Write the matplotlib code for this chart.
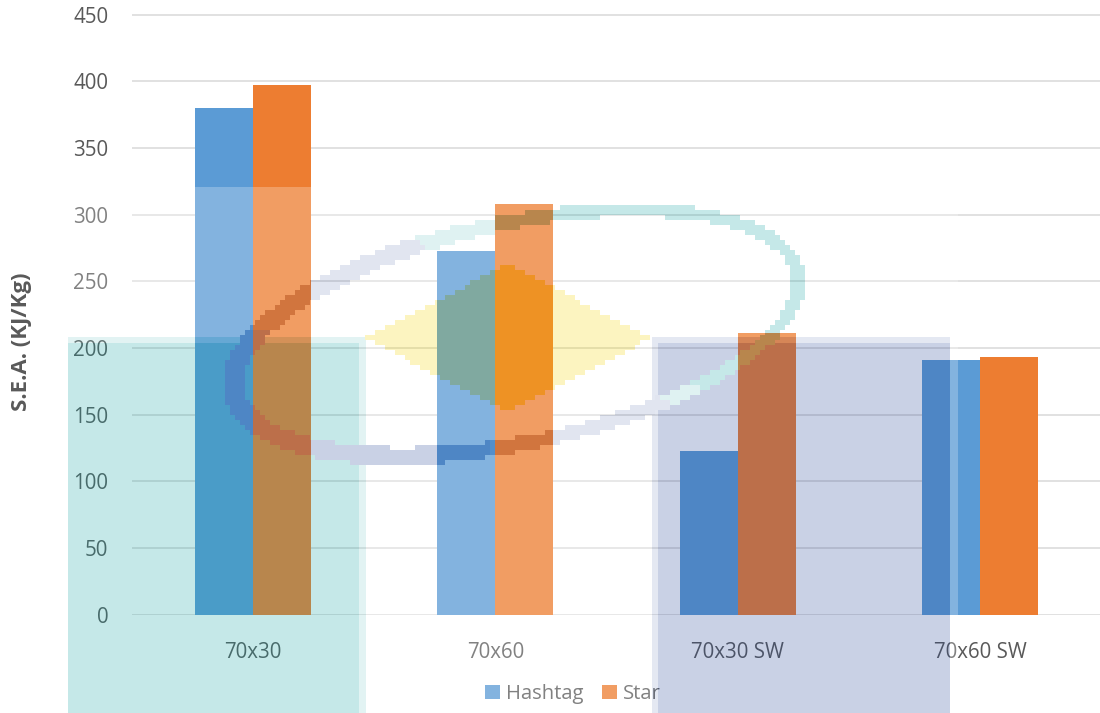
import numpy as np
import matplotlib
matplotlib.use("Agg")
import matplotlib.pyplot as plt

# ---- data -------------------------------------------------------------
categories = ["70x30", "70x60", "70x30 SW", "70x60 SW"]
hashtag = [380, 273, 123, 191]
star = [397, 308, 211, 193]
series_names = ["Hashtag", "Star"]
y_ticks = [0, 50, 100, 150, 200, 250, 300, 350, 400, 450]
y_label = "S.E.A. (KJ/Kg)"

# ---- figure / axes ----------------------------------------------------
W, H = 1100, 713
plt.rcParams["font.family"] = ["Open Sans", "DejaVu Sans"]
fig = plt.figure(figsize=(W / 100, H / 100), dpi=100)

px_per_unit = 66.67 / 50.0
y0_px = 614.7
ymax = 455
ax = fig.add_axes([131.75 / W, (H - y0_px) / H, 969.5 / W, ymax * px_per_unit / H])

x = np.arange(len(categories))
w = 0.239
b1 = ax.bar(x - w, hashtag, w, align="edge", color="#5B9BD5", zorder=2, label=series_names[0])
b2 = ax.bar(x, star, w, align="edge", color="#ED7D31", zorder=2, label=series_names[1])

ax.set_xlim(-0.5, 3.5)
ax.set_ylim(0, ymax)
ax.set_yticks(y_ticks)
ax.set_xticks(x, categories)
ax.yaxis.grid(True, color="#D9D9D9", lw=1.1)
ax.set_axisbelow(True)
for s in ax.spines.values():
    s.set_visible(False)
ax.tick_params(length=0, labelsize=14.8, colors="#595959")
ax.tick_params(axis="y", pad=17)
ax.tick_params(axis="x", pad=20)

fig.text(22 / W, 1 - 342 / H, y_label, rotation=90, ha="center", va="center",
         fontsize=16, fontweight="bold", color="#595959")

fig.legend(handles=[b1, b2], loc="center", bbox_to_anchor=(573 / W, 1 - 694 / H),
           ncol=2, frameon=False, fontsize=14.6, handlelength=0.7, handleheight=0.7,
           handletextpad=0.3, columnspacing=0.95, labelcolor="#595959")

# ---- translucent emblem laid over the chart --------------------------
yy, xx = np.mgrid[0:H, 0:W] + 0.5
logo = np.zeros((H, W, 4))

white = np.array([1.0, 1.0, 1.0])
teal = np.array([23, 163, 163]) / 255
lav = np.array([39, 71, 151]) / 255
yellow = np.array([243, 214, 0]) / 255


def paint(mask, rgb, alpha=0.25):
    logo[mask, :3] = rgb
    logo[mask, 3] = alpha


def box(x0, x1, y0, y1):
    return (xx >= x0) & (xx < x1) & (yy >= y0) & (yy < y1)


paint(box(68, 958, 187, 713), white)
paint(box(68, 366, 337, 713), 0.5 * teal + 0.5 * white)
paint(box(68, 359, 343, 713), teal)
paint(box(652, 950, 337, 713), 0.5 * lav + 0.5 * white)
paint(box(658, 950, 343, 713), lav)

# coarse pixel grid for the diamond and the ring
blk = 5
bx = np.floor(xx / blk) * blk + blk / 2
by = np.floor(yy / blk) * blk + blk / 2

diamond = np.abs(bx - 508) / 143 + np.abs(by - 338) / 74 <= 1
paint(diamond, yellow)

cx, cy, ra, rb, ang = 516, 333, 288, 110, np.deg2rad(12)
dx, dy = bx - cx, by - cy
u = dx * np.cos(ang) - dy * np.sin(ang)
v = -dx * np.sin(ang) - dy * np.cos(ang)
t = 7 + 4 * np.clip(-u / ra, 0, 1)
outer = (u / (ra + t)) ** 2 + (v / (rb + t)) ** 2 <= 1
inner = (u / (ra - t)) ** 2 + (v / (rb - t)) ** 2 < 1
ring = outer & ~inner
phi = np.degrees(np.arctan2(v / rb, u / ra))
faint = ((phi > 90) & (phi < 150)) | ((phi > -100) & (phi < -55))
upper = 250 * (by - 240) - 160 * (bx - 415) < 0
paint(ring & upper & ~faint, teal)
paint(ring & upper & faint, teal, 0.14)
paint(ring & ~upper & ~faint, lav)
paint(ring & ~upper & faint, lav, 0.14)

ov = fig.add_axes([0, 0, 1, 1])
ov.set_zorder(10)
ov.imshow(logo, extent=(0, W, H, 0), interpolation="nearest", aspect="auto")
ov.set_xlim(0, W)
ov.set_ylim(H, 0)
ov.axis("off")

fig.savefig("out.png", dpi=100)
